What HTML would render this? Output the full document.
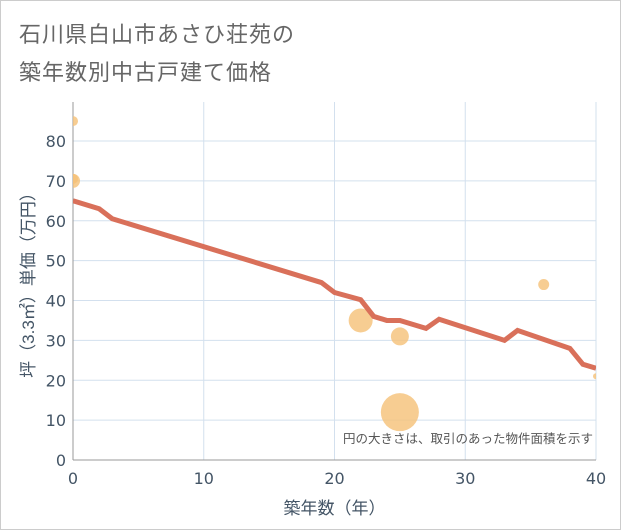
<!DOCTYPE html>
<html><head><meta charset="utf-8">
<style>
body{margin:0;background:#fff;}
#wrap{position:relative;width:621px;height:530px;box-sizing:border-box;border:1px solid #ccc;background:#fff;font-family:"Liberation Sans","Noto Sans CJK JP",sans-serif;}
.title{position:absolute;left:18px;font-size:22px;color:#666;letter-spacing:1px;}
</style></head>
<body>
<div id="wrap">
<div class="title" style="top:16px">石川県白山市あさひ荘苑の</div>
<div class="title" style="top:54px">築年数別中古戸建て価格</div>
<svg id="chart" width="621" height="530" style="position:absolute;left:-1px;top:-1px"></svg>
</div>
<script>
const lineX=[0,2,3,19,20,22,23,24,25,27,28,33,34,38,39,40];
const lineY=[65,63,60.5,44.5,42,40.2,36,35,35,33,35.3,30,32.5,28,24,23];
const bubX=[0,0,0,22,25,25,36,40];
const bubY=[85,70,70.5,35,31,12,44,21];
const bubR=[5,7,5,12,9,19,5.5,3];
const xTicks=[0,10,20,30,40];
const yTicks=[0,10,20,30,40,50,60,70,80];
const X0=73,X1=596,Y0=460,Y1=102;
const sx=v=>X0+(X1-X0)*v/40;
const sy=v=>Y0-(Y0-141)*v/80;
const NS="http://www.w3.org/2000/svg";
const svg=document.getElementById('chart');
const TF='"DejaVu Sans","Liberation Sans",sans-serif';
function mk(t,a,p){const e=document.createElementNS(NS,t);for(const k in a)e.setAttribute(k,a[k]);(p||svg).appendChild(e);return e;}
const defs=mk('defs',{});
const cp=mk('clipPath',{id:'pc'},defs);mk('rect',{x:X0,y:Y1,width:X1-X0,height:Y0-Y1},cp);
const grid=mk('g',{});
yTicks.forEach(v=>{if(v>0)mk('line',{x1:X0,x2:X1,y1:sy(v),y2:sy(v),stroke:'#d3e0ee','stroke-width':1},grid);
 const t=mk('text',{x:X0-7,y:sy(v)+6,'text-anchor':'end','font-size':16,'font-family':TF,fill:'#445566'});t.textContent=v;
 });
xTicks.forEach(v=>{if(v>0&&v<40)mk('line',{x1:sx(v),x2:sx(v),y1:Y1,y2:Y0,stroke:'#d3e0ee','stroke-width':1},grid);
 const t=mk('text',{x:sx(v),y:484,'text-anchor':'middle','font-size':16,'font-family':TF,fill:'#445566'});t.textContent=v;
 });
mk('line',{x1:X1,x2:X1,y1:Y1,y2:Y0,stroke:'#d3e0ee'});
mk('line',{x1:X0,x2:X1,y1:Y0,y2:Y0,stroke:'#999'});
mk('line',{x1:X0,x2:X0,y1:Y1,y2:Y0,stroke:'#999'});
const pg=mk('g',{'clip-path':'url(#pc)'});
bubX.forEach((v,i)=>{const c=mk('circle',{cx:sx(v),cy:sy(bubY[i]),r:bubR[i],fill:'#f5c077','fill-opacity':0.8},pg);
 });
const pl=mk('polyline',{points:lineX.map((v,i)=>sx(v)+','+sy(lineY[i])).join(' '),fill:'none',stroke:'#d9705a','stroke-width':5,'stroke-linejoin':'miter'},pg);

const note=mk('text',{x:593,y:443,'text-anchor':'end','font-size':12.5,fill:'#555'});note.textContent='円の大きさは、取引のあった物件面積を示す';

const xt=mk('text',{x:sx(20),y:514,'text-anchor':'middle','font-size':17,fill:'#445566'});xt.textContent='築年数（年）';

const yt=mk('text',{x:0,y:0,'text-anchor':'middle','font-size':17,fill:'#445566',transform:'translate(34,'+((Y0+Y1)/2)+') rotate(-90)'});yt.textContent='坪（3.3㎡）単価（万円）';

</script>
</body></html>
